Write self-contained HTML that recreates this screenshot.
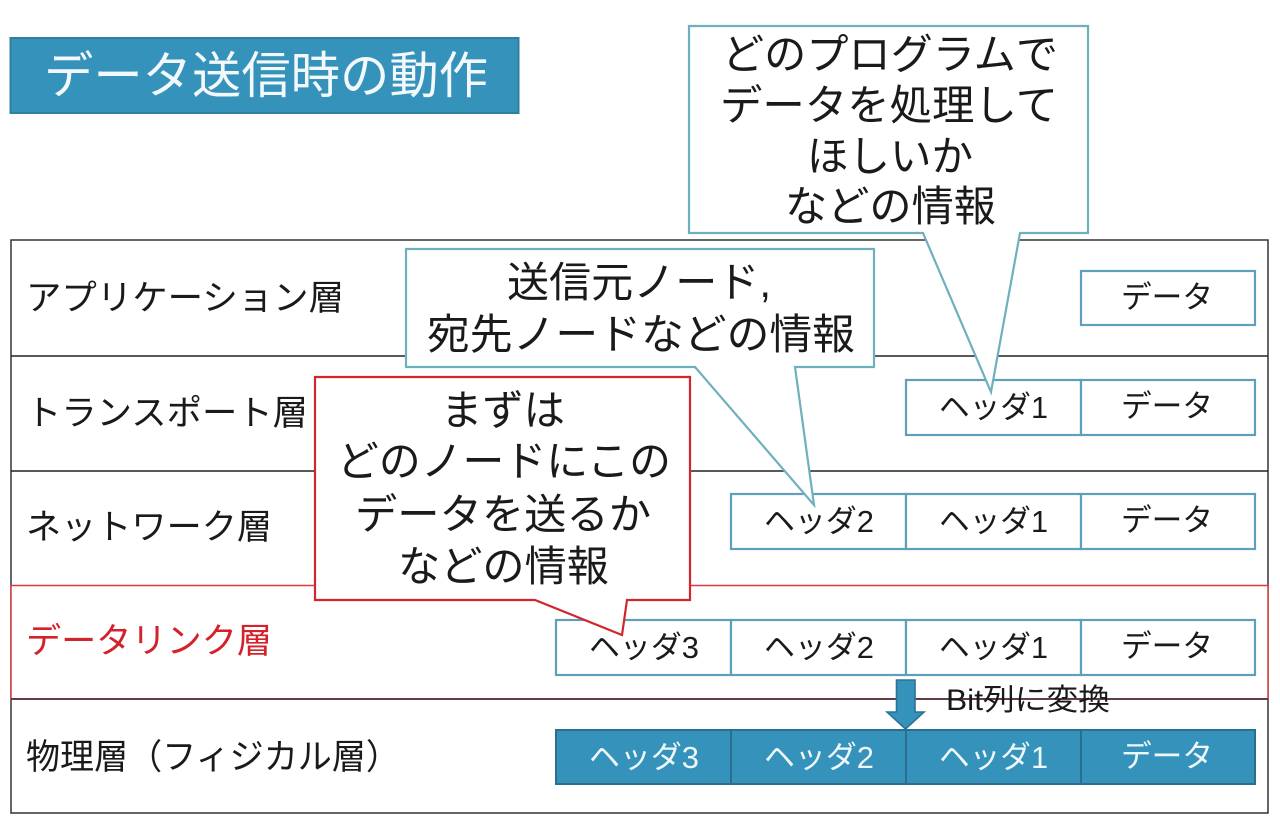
<!DOCTYPE html>
<html lang="ja">
<head>
<meta charset="utf-8">
<title>データ送信時の動作</title>
<style>
html,body{margin:0;padding:0;background:#fff;width:1280px;height:828px;overflow:hidden}
svg{display:block}
text{font-family:"Liberation Sans","Noto Sans CJK JP",sans-serif;font-weight:400;fill:#1a1a1a}
.b{fill:#fff;stroke:#5f9fbb;stroke-width:2.2}
.s{fill:#3592bb;stroke:#2b6f8f;stroke-width:2}
.c{fill:#fff;stroke:#6fb0bd;stroke-width:2.2;stroke-linejoin:miter}
.r{fill:#fff;stroke:#d0262c;stroke-width:2.2;stroke-linejoin:miter}
.l{font-size:35px}
.h{font-size:31px}
.t{font-size:42px}
</style>
</head>
<body>
<svg xmlns="http://www.w3.org/2000/svg" width="1280" height="828" viewBox="0 0 1280 828">
  <!-- title -->
  <rect x="10.5" y="38" width="508" height="75" fill="#3592bb" stroke="#2f7f9f" stroke-width="2"/>
  <text x="44" y="93" font-size="50" textLength="444" lengthAdjust="spacingAndGlyphs" style="fill:#f2f8fb">データ送信時の動作</text>

  <!-- layers -->
  <rect x="11" y="240" width="1257" height="573" fill="#fff" stroke="#333" stroke-width="1.5"/>
  <line x1="11" y1="356" x2="1268" y2="356" stroke="#222" stroke-width="1.5"/>
  <line x1="11" y1="471" x2="1268" y2="471" stroke="#222" stroke-width="1.5"/>
  <rect x="11" y="585.5" width="1257" height="113.5" fill="#fff" stroke="#dc3a3e" stroke-width="1.5"/>
  <line x1="11" y1="699" x2="1268" y2="699" stroke="#4a3236" stroke-width="1.8"/>

  <text class="l" x="26" y="310" textLength="318" lengthAdjust="spacingAndGlyphs">アプリケーション層</text>
  <text class="l" x="26" y="425" textLength="282" lengthAdjust="spacingAndGlyphs">トランスポート層</text>
  <text class="l" x="26" y="539" textLength="246" lengthAdjust="spacingAndGlyphs">ネットワーク層</text>
  <text class="l" x="26" y="653" textLength="246" lengthAdjust="spacingAndGlyphs" style="fill:#d3222a">データリンク層</text>
  <text class="l" x="26" y="769" textLength="374" lengthAdjust="spacingAndGlyphs">物理層（フィジカル層）</text>

  <!-- row 1 -->
  <rect class="b" x="1081" y="271" width="174" height="54"/>
  <text class="h" x="1121" y="308" textLength="92" lengthAdjust="spacingAndGlyphs">データ</text>

  <!-- row 2 -->
  <rect class="b" x="906" y="380" width="175" height="55"/>
  <rect class="b" x="1081" y="380" width="174" height="55"/>
  <text class="h" x="939" y="418" textLength="109" lengthAdjust="spacingAndGlyphs">ヘッダ1</text>
  <text class="h" x="1121" y="417" textLength="92" lengthAdjust="spacingAndGlyphs">データ</text>

  <!-- row 3 -->
  <rect class="b" x="731" y="494" width="175" height="55"/>
  <rect class="b" x="906" y="494" width="175" height="55"/>
  <rect class="b" x="1081" y="494" width="174" height="55"/>
  <text class="h" x="764" y="532" textLength="110" lengthAdjust="spacingAndGlyphs">ヘッダ2</text>
  <text class="h" x="939" y="532" textLength="109" lengthAdjust="spacingAndGlyphs">ヘッダ1</text>
  <text class="h" x="1121" y="531" textLength="92" lengthAdjust="spacingAndGlyphs">データ</text>

  <!-- row 4 -->
  <rect class="b" x="556" y="620" width="175" height="55"/>
  <rect class="b" x="731" y="620" width="175" height="55"/>
  <rect class="b" x="906" y="620" width="175" height="55"/>
  <rect class="b" x="1081" y="620" width="174" height="55"/>
  <text class="h" x="589" y="658" textLength="110" lengthAdjust="spacingAndGlyphs">ヘッダ3</text>
  <text class="h" x="764" y="658" textLength="110" lengthAdjust="spacingAndGlyphs">ヘッダ2</text>
  <text class="h" x="939" y="658" textLength="109" lengthAdjust="spacingAndGlyphs">ヘッダ1</text>
  <text class="h" x="1121" y="657" textLength="92" lengthAdjust="spacingAndGlyphs">データ</text>

  <!-- row 5 -->
  <rect class="s" x="556" y="730" width="175" height="54"/>
  <rect class="s" x="731" y="730" width="175" height="54"/>
  <rect class="s" x="906" y="730" width="175" height="54"/>
  <rect class="s" x="1081" y="730" width="174" height="54"/>
  <text class="h" x="589" y="768" textLength="110" lengthAdjust="spacingAndGlyphs" style="fill:#eef7fa">ヘッダ3</text>
  <text class="h" x="764" y="768" textLength="110" lengthAdjust="spacingAndGlyphs" style="fill:#eef7fa">ヘッダ2</text>
  <text class="h" x="939" y="768" textLength="109" lengthAdjust="spacingAndGlyphs" style="fill:#eef7fa">ヘッダ1</text>
  <text class="h" x="1121" y="767" textLength="92" lengthAdjust="spacingAndGlyphs" style="fill:#eef7fa">データ</text>

  <!-- arrow -->
  <polygon points="896.5,680 915,680 915,712 924,712 905.5,729 887,712 896.5,712" fill="#3592bb" stroke="#2b7394" stroke-width="1.6"/>
  <text x="946" y="710" font-size="30" textLength="164" lengthAdjust="spacingAndGlyphs">Bit列に変換</text>

  <!-- callout: program -->
  <polygon class="c" points="689,26 1088,26 1088,233 1020,233 991,392 923,233 689,233"/>
  <text class="t" x="722" y="69" textLength="336" lengthAdjust="spacingAndGlyphs">どのプログラムで</text>
  <text class="t" x="720" y="120" textLength="338" lengthAdjust="spacingAndGlyphs">データを処理して</text>
  <text class="t" x="807" y="171" textLength="166" lengthAdjust="spacingAndGlyphs">ほしいか</text>
  <text class="t" x="785" y="221" textLength="211" lengthAdjust="spacingAndGlyphs">などの情報</text>

  <!-- callout: node -->
  <polygon class="c" points="406,249 874,249 874,367 795,367 814,505 695,367 406,367"/>
  <text class="t" x="507" y="297" textLength="264" lengthAdjust="spacingAndGlyphs">送信元ノード,</text>
  <text class="t" x="427" y="349" textLength="428" lengthAdjust="spacingAndGlyphs">宛先ノードなどの情報</text>

  <!-- callout: red -->
  <polygon class="r" points="315,377 690,377 690,600 627,600 622,635 535,600 315,600"/>
  <text class="t" x="441" y="425" textLength="124" lengthAdjust="spacingAndGlyphs">まずは</text>
  <text class="t" x="337" y="476" textLength="334" lengthAdjust="spacingAndGlyphs">どのノードにこの</text>
  <text class="t" x="355" y="529" textLength="296" lengthAdjust="spacingAndGlyphs">データを送るか</text>
  <text class="t" x="398" y="581" textLength="211" lengthAdjust="spacingAndGlyphs">などの情報</text>
</svg>
</body>
</html>
